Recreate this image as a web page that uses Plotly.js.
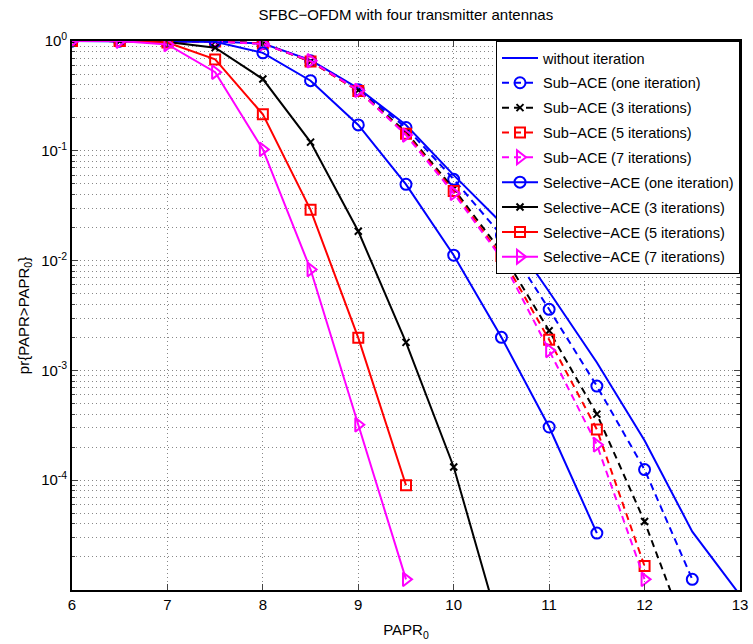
<!DOCTYPE html>
<html><head><meta charset="utf-8">
<script src="https://cdn.plot.ly/plotly-3.0.1.min.js"></script>
<style>html,body{margin:0;padding:0;background:#fff}</style>
</head><body><div id="chart" style="width:753px;height:644px"></div>
<script>
const papr = [6, 6.5, 7, 7.5, 8, 8.5, 9, 9.5, 10, 10.5, 11, 11.5, 12, 12.5, 13];
const withoutIteration = [1, 1, 1, 0.99, 0.95, 0.67, 0.37, 0.172, 0.060, 0.022, 0.0052, 0.00118, 0.00023, 3.4e-5, 9e-6];
const subOne = [1, 1, 1, 0.99, 0.95, 0.66, 0.36, 0.163, 0.055, 0.017, 0.0036, 0.00072, 0.000125, 1.25e-5, null];
const sub3 = [1, 1, 1, 0.99, 0.95, 0.65, 0.355, 0.148, 0.045, 0.012, 0.0023, 0.00040, 4.2e-5, 2.9e-6, null];
const sub5 = [1, 1, 1, 0.99, 0.95, 0.65, 0.35, 0.143, 0.043, 0.011, 0.0019, 0.00029, 1.65e-5, null, null];
const sub7 = [1, 1, 1, 0.99, 0.94, 0.66, 0.355, 0.139, 0.041, 0.0105, 0.00152, 0.00021, 1.25e-5, null, null];
const selOne = [1, 1, 0.99, 0.985, 0.78, 0.435, 0.172, 0.0495, 0.0112, 0.0020, 0.000305, 3.3e-5, null, null, null];
const sel3 = [1, 1, 0.98, 0.87, 0.45, 0.12, 0.0185, 0.0018, 0.000132, 4e-6, null, null, null, null, null];
const sel5 = [1, 1, 0.97, 0.68, 0.215, 0.029, 0.00198, 9e-5, null, null, null, null, null, null, null];
const sel7 = [1, 1, 0.93, 0.52, 0.103, 0.0083, 0.00032, 1.25e-5, null, null, null, null, null, null, null];

const seriesNames = [
  'without iteration',
  'Sub\u2212ACE (one iteration)',
  'Sub\u2212ACE (3 iterations)',
  'Sub\u2212ACE (5 iterations)',
  'Sub\u2212ACE (7 iterations)',
  'Selective\u2212ACE (one iteration)',
  'Selective\u2212ACE (3 iterations)',
  'Selective\u2212ACE (5 iterations)',
  'Selective\u2212ACE (7 iterations)'
];
const yTickVals = [1e-4, 1e-3, 1e-2, 1e-1, 1];
const yTickText = ['10<sup>-4</sup>', '10<sup>-3</sup>', '10<sup>-2</sup>', '10<sup>-1</sup>', '10<sup>0</sup>'];

const minorVals = [];
for (let e = -5; e < 0; e++) for (let m = 2; m <= 9; m++) minorVals.push(m * Math.pow(10, e));

const BLUE = '#0000ff', BLACK = '#000000', RED = '#ff0000', MAG = '#ff00ff';
const DASH = '7px,5px';
function tr(name, y, color, dash, symbol, size) {
  const t = {
    x: papr, y: y, name: name, type: 'scatter', legendgroup: name,
    mode: symbol ? 'lines+markers' : 'lines',
    line: {color: color, width: 2, dash: dash},
    cliponaxis: true
  };
  if (symbol) t.marker = {symbol: symbol, size: size, color: color, line: {color: color, width: 2}};
  return t;
}
const data = [
  tr(seriesNames[0], withoutIteration, BLUE, 'solid', null),
  tr(seriesNames[1], subOne, BLUE, DASH, 'circle-open', 11),
  tr(seriesNames[2], sub3, BLACK, DASH, 'x-thin', 7),
  tr(seriesNames[3], sub5, RED, DASH, 'square-open', 10),
  tr(seriesNames[4], sub7, MAG, DASH, 'triangle-right-open', 12),
  tr(seriesNames[5], selOne, BLUE, 'solid', 'circle-open', 11),
  tr(seriesNames[6], sel3, BLACK, 'solid', 'x-thin', 7),
  tr(seriesNames[7], sel5, RED, 'solid', 'square-open', 10),
  tr(seriesNames[8], sel7, MAG, 'solid', 'triangle-right-open', 12)
];
const FONT = 'Liberation Sans, Arial, Helvetica, sans-serif';
const layout = {
  width: 753, height: 644,
  margin: {l: 72, r: 13, t: 41, b: 54},
  paper_bgcolor: '#fff', plot_bgcolor: '#fff',
  font: {family: FONT, size: 14, color: '#000'},
  title: {text: 'SFBC\u2212OFDM with four transmitter antennas', x: 0.539, xanchor: 'center',
          y: 1 - 15 / 644, yanchor: 'middle', yref: 'container', font: {size: 15}},
  showlegend: true,
  legend: {x: 1, y: 1, xanchor: 'right', yanchor: 'top', bgcolor: '#fff',
           bordercolor: '#000', borderwidth: 1, font: {size: 14.5},
           traceorder: 'grouped', tracegroupgap: 3, itemwidth: 36},
  xaxis: {
    range: [6, 13], dtick: 1, tick0: 6, ticks: 'inside', ticklen: 6, tickwidth: 1,
    showline: true, linecolor: '#000', linewidth: 1.8, mirror: 'allticks',
    showgrid: true, gridcolor: '#888', griddash: '1px,3px', gridwidth: 1, zeroline: false,
    title: {text: 'PAPR<sub>0</sub>', standoff: 13, font: {size: 15}},
    tickfont: {size: 15}
  },
  yaxis: {
    type: 'log', range: [-5, 0], tickmode: 'array', tickvals: yTickVals, ticktext: yTickText,
    ticks: 'inside', ticklen: 6, tickwidth: 1,
    showline: true, linecolor: '#000', linewidth: 1.8, mirror: 'allticks',
    showgrid: true, gridcolor: '#888', griddash: '1px,3px', gridwidth: 1, zeroline: false,
    minor: {tickmode: 'array', tickvals: minorVals, ticks: 'inside', ticklen: 3,
            showgrid: true, gridcolor: '#888', griddash: '1px,3px', gridwidth: 1},
    title: {text: 'pr{PAPR>PAPR<sub>0</sub>}', standoff: 8, font: {size: 15}},
    tickfont: {size: 15}
  }
};
Plotly.newPlot('chart', data, layout, {displayModeBar: false, staticPlot: true});
</script></body></html>
